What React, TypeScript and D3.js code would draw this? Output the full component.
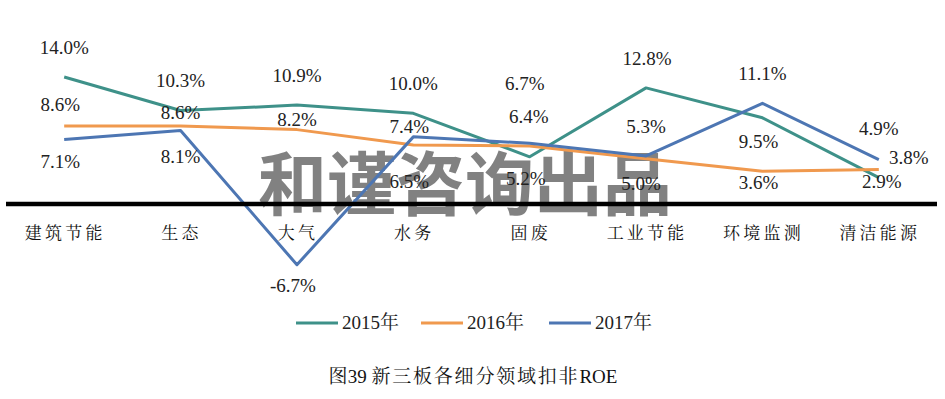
import * as d3 from 'd3';

const categories = ['建筑节能', '生态', '大气', '水务', '固废', '工业节能', '环境监测', '清洁能源'];
const seriesYears = ['2015', '2016', '2017'];
const roe2015 = [14.0, 10.3, 10.9, 10.0, 5.2, 12.8, 9.5, 2.9];
const roe2016 = [8.6, 8.6, 8.2, 6.5, 6.4, 5.0, 3.6, 3.8];
const roe2017 = [7.1, 8.1, -6.7, 7.4, 6.7, 5.3, 11.1, 4.9];

const COLORS = ['#3E9189', '#F0994E', '#4D76B3'];

// label placement relative to the point [dx, dy to baseline]
const LABEL_POS: [number, number][][] = [
    [[0, -23], [0, -24], [0, -23], [0, -23], [-4, 28], [1, -23], [-4, 30], [3, 10]],
    [[-4, -15], [0, -7], [0, -4], [-4, 43], [-1, -23], [-5, 31], [-4, 18], [30, -6]],
    [[-4, 28], [0, 32], [-4, 27], [-4, -4], [-5, -53], [0, -23], [0, -23], [0, -25]],
];

const W = 945;
const H = 399;
const LATIN = 'Liberation Serif, Times New Roman, serif';
const HAN = 'Noto Serif CJK SC, serif';

export default function App() {
    const series = [roe2015, roe2016, roe2017];
    const x = d3.scaleBand<string>().domain(categories).range([6, 937]).padding(0);
    const cx = (c: string) => (x(c) ?? 0) + x.bandwidth() / 2;
    const y = d3.scaleLinear().domain([0, 14]).range([204, 77]);
    const line = d3.line<number>()
        .x((_, i) => cx(categories[i]))
        .y(d => y(d));

    const legendX = [296, 421, 549];

    return (
        <svg width={W} height={H} style={{ position: 'absolute', left: 0, top: 0, background: '#fff' }}>
            {/* watermark */}
            <text x={465} y={210} textAnchor="middle" style={{ fontFamily: 'Noto Sans CJK SC, sans-serif' }}
                fontWeight={700} fontSize={69} fill="#7a7a7a" fillOpacity={0.95}>
                和谨咨询出品
            </text>

            {series.map((s, si) => (
                <path key={si} d={line(s) ?? ''} fill="none" stroke={COLORS[si]}
                    strokeWidth={3} strokeLinejoin="round" />
            ))}

            {/* zero axis */}
            <line x1={6} x2={937} y1={y(0)} y2={y(0)} stroke="#000" strokeWidth={4.5} />

            {series.map((s, si) => s.map((v, i) => (
                <text key={`${si}-${i}`} x={cx(categories[i]) + LABEL_POS[si][i][0]}
                    y={y(v) + LABEL_POS[si][i][1]} textAnchor="middle"
                    style={{ fontFamily: LATIN }} fontSize={19} fill="#222">
                    {v.toFixed(1)}%
                </text>
            )))}

            {categories.map(c => (
                <text key={c} x={cx(c) + 1} y={239} textAnchor="middle" style={{ fontFamily: HAN }}
                    fontSize={17} letterSpacing={3.2} fill="#111">
                    {c}
                </text>
            ))}

            {/* legend */}
            {seriesYears.map((n, i) => (
                <g key={n} transform={`translate(${legendX[i]},323)`}>
                    <line x1={0} x2={42} y1={0} y2={0} stroke={COLORS[i]} strokeWidth={3} />
                    <text x={46} y={6} fontSize={19} fill="#222">
                        <tspan style={{ fontFamily: LATIN }}>{n}</tspan>
                        <tspan style={{ fontFamily: HAN }}>年</tspan>
                    </text>
                </g>
            ))}

            <text x={473} y={383} textAnchor="middle" fontSize={19} fill="#111">
                <tspan style={{ fontFamily: HAN }}>图</tspan>
                <tspan style={{ fontFamily: LATIN }}>39 </tspan>
                <tspan style={{ fontFamily: HAN }} letterSpacing={1.8}>新三板各细分领域扣非</tspan>
                <tspan style={{ fontFamily: LATIN }}>ROE</tspan>
            </text>
        </svg>
    );
}
